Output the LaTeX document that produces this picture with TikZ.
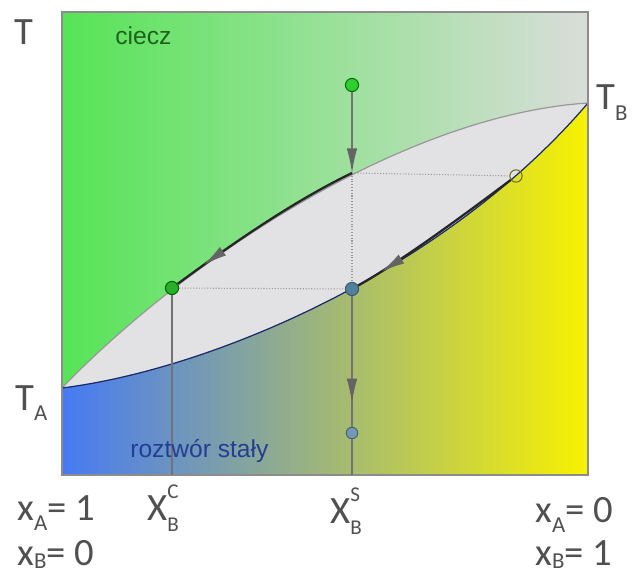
\documentclass[tikz,border=0pt]{standalone}
\usepackage{fontspec}
\setmainfont{Carlito}
\newfontfamily\regionfont{Liberation Sans}
\usetikzlibrary{arrows.meta,decorations.markings}

\definecolor{liqgreen}{RGB}{86,228,86}
\definecolor{liqmid}{RGB}{176,228,176}
\definecolor{liqgray}{RGB}{218,221,218}
\definecolor{lensgray}{RGB}{226,226,228}
\definecolor{solblue}{RGB}{70,122,244}
\definecolor{solmid}{RGB}{150,168,190}
\definecolor{solyellow}{RGB}{248,242,0}
\definecolor{labelgray}{RGB}{80,80,80}
\definecolor{cieczgreen}{RGB}{28,100,28}
\definecolor{solidtext}{RGB}{36,62,150}
\definecolor{dotgreen}{RGB}{48,206,48}
\definecolor{dotsteel}{RGB}{82,128,156}
\definecolor{tipgray}{RGB}{100,100,100}

\newcommand\lsub[1]{\raisebox{-0.55ex}{\fontsize{13}{13}\selectfont #1}}
\newcommand\lsubb[1]{\raisebox{-0.2ex}{\fontsize{13}{13}\selectfont #1}}
\newcommand\subsup[2]{\makebox[0pt][l]{\raisebox{1.15ex}{\fontsize{12}{12}\selectfont #2}}\raisebox{-0.6ex}{\fontsize{12}{12}\selectfont #1}}

\begin{document}
\begin{tikzpicture}[x=0.02cm, y=-0.02cm,
    phaseline/.style={line width=0.7pt},
    tieline/.style={densely dotted, black!40, line width=0.6pt},
    pathline/.style={line width=1.3pt, black!85},
    dropline/.style={line width=0.8pt, black!55},
    dot/.style={circle, inner sep=0pt, minimum size=7.5pt, line width=0.6pt},
    bigtip/.style={-{Latex[length=14pt,width=6pt,color=tipgray]}},
    midtip/.style={postaction={decorate, decoration={markings,
        mark=at position #1 with {\arrow{Latex[length=14pt,width=6pt,color=tipgray]}}}}},
    tlabel/.style={anchor=base west, inner sep=0pt, labelgray, font=\fontsize{22}{22}\selectfont},
    comp/.style={anchor=base west, inner sep=0pt, labelgray, font=\fontsize{22}{22}\selectfont}]
    \useasboundingbox (0,0) rectangle (632,577);

    % Points of the diagram
    \coordinate (TA) at (62,388);
    \coordinate (TB) at (588,103);
    \coordinate (p1) at (352,173);
    \coordinate (clb) at (172,475);
    \coordinate (csb) at (352,475);

    % Regions
    \shade[left color=liqgreen, middle color=liqmid, right color=liqgray] (62,12) rectangle (588,475);
    \fill[lensgray] (TA) .. controls (180,265) and (400,115) .. (TB)
        .. controls (450,265) and (220,368) .. (TA) -- cycle;
    \shade[left color=solblue, middle color=solmid, right color=solyellow]
        (TA) .. controls (220,368) and (450,265) .. (TB) -- (588,475) -- (62,475) -- cycle;

    % Liquidus and solidus
    \draw[phaseline, black!40] (TA) .. controls (180,265) and (400,115) .. (TB);
    \draw[phaseline, solidtext!70!black] (TA) .. controls (220,368) and (450,265) .. (TB);

    % Frame
    \draw[line width=1pt, black!45] (62,12) rectangle (588,475);

    % State points
    \node[dot, fill=dotgreen, draw=green!45!black] (lq) at (352,85) {};
    \node[dot, fill=dotgreen!85!black, draw=green!40!black] (cl) at (172,288) {};
    \node[dot, fill=dotsteel, draw=dotsteel!70!black] (cs) at (352,289) {};
    \node[dot, fill=dotsteel!80!white, draw=dotsteel!80!black, minimum size=6.5pt] (sol) at (352,433) {};
    \node[circle, inner sep=0pt, minimum size=7pt, draw=olive!70!black, line width=0.6pt] (ps) at (516,176) {};

    % Tie lines
    \draw[tieline] (p1) -- (ps);
    \draw[tieline] (p1) -- (cs);
    \draw[tieline] (cl) -- (cs);

    % Cooling path
    \draw[dropline, bigtip] (lq) -- (p1);
    \draw[pathline, midtip=0.85] (p1) .. controls (290,203) and (228,247) .. (cl);
    \draw[pathline, midtip=0.86] (ps) .. controls (460,218) and (400,262) .. (cs);
    \draw[dropline, midtip=0.82] (cs) -- (sol);
    \draw[dropline] (sol) -- (csb);
    \draw[dropline] (cl) -- (clb);

    % Region names
    \node[anchor=base west, inner sep=0pt, cieczgreen, font=\regionfont\fontsize{14}{14}\selectfont] (ciecz) at (115,45) {ciecz};
    \node[anchor=base west, inner sep=0pt, solidtext, font=\regionfont\fontsize{14}{14}\selectfont] (rozt) at (130,457) {roztwór stały};

    % Temperature labels
    \node[tlabel] (tlab) at (14,45) {T};
    \node[tlabel] (talab) at (15,410) {T\lsub{A}};
    \node[tlabel] (tblab) at (596,110) {T\lsub{B}};

    % Composition labels
    \node[comp] (xa1) at (17,520) {x\lsub{A}= 1};
    \node[comp] (xb0) at (17,565) {x\lsubb{B}= 0};
    \node[comp] (xbc) at (147,520) {X\subsup{B}{C}};
    \node[comp] (xbs) at (330,523) {X\subsup{B}{S}};
    \node[comp] (xa0) at (535,522) {x\lsub{A}= 0};
    \node[comp] (xb1) at (535,565) {x\lsubb{B}= 1};
\end{tikzpicture}
\end{document}
